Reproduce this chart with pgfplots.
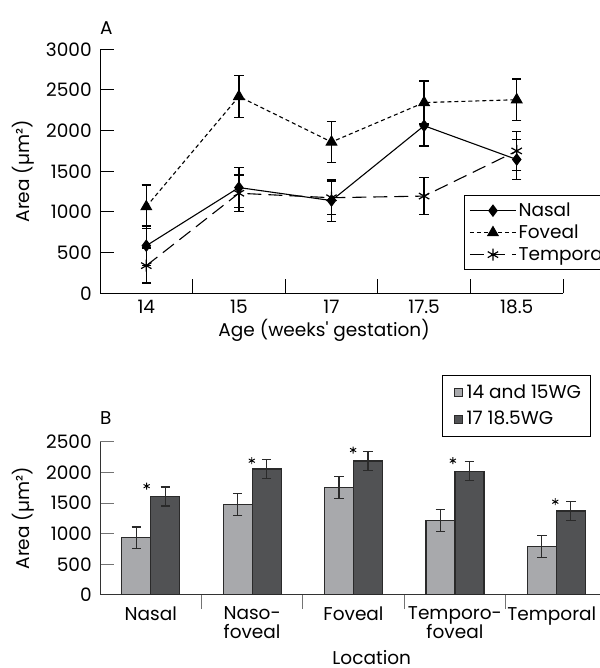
\documentclass[border=0pt]{standalone}
\usepackage{fontspec}
\setmainfont{Poppins}[Ligatures=TeXOff]
\usepackage{pgfplots}
\pgfplotsset{compat=1.18}
\definecolor{lightbar}{HTML}{A8A9AC}
\definecolor{darkbar}{HTML}{515254}
\definecolor{edge}{HTML}{2A2A2A}
\newcommand{\fs}{\fontsize{18.5}{21}\selectfont}
\begin{document}
\fs
\begin{tikzpicture}
\pgfplotsset{
  every axis/.append style={
    /pgf/number format/assume math mode=true,
    /pgf/number format/1000 sep={},
    scale only axis,
    xmin=0, xmax=5, ymin=0,
    axis x line*=bottom, axis y line*=left,
    tick align=inside,
    major tick length=14pt, minor tick length=14pt,
    xtick={0.5,1.5,2.5,3.5,4.5},
    minor xtick={1,2,3,4,5},
    major x tick style={draw=none},
    tick label style={font=\fs},
    yticklabel style={xshift=-2pt},
    label style={font=\fs},
    title style={font=\fs},
  },
}
% ---------- Panel A ----------
\begin{axis}[
  at={(100pt,374.7pt)}, anchor=south west,
  width=463pt, height=244pt,
  ymax=3000, ytick={0,500,...,3000},
  xticklabels={14,15,17,17.5,18.5},
  axis line style={black, line width=1pt},
  tick style={black, line width=1pt},
  xlabel={Age (weeks' gestation)},
  xlabel style={at={(axis description cs:0.484,-0.150)}, anchor=center},
  ylabel={Area (µm²)},
  ylabel style={at={(axis description cs:-0.166,0.5)}, anchor=center},
  title={A},
  title style={at={(axis description cs:0,1.062)}, anchor=west, inner sep=0pt},
  legend style={at={(axis description cs:0.786,0.403)}, anchor=north west,
    draw=black, line width=1pt, font=\fs,
    inner sep=5pt, row sep=1.5pt, cells={anchor=west}},
  legend image code/.code={\draw[mark repeat=2,mark phase=2,#1]
     plot coordinates {(0pt,0pt) (23pt,0pt) (46pt,0pt)};},
  error bars/error bar style={solid, line width=1.4pt, black},
  error bars/error mark options={rotate=90, solid, mark size=4.7pt, line width=1.4pt, black},
]
\addplot[black, line width=1.1pt, mark=diamond*, mark size=5.5pt, mark options={solid},
  error bars/.cd, y dir=both, y explicit]
  coordinates {(0.5,585) +- (0,240) (1.5,1300) +- (0,245) (2.5,1140) +- (0,255)
               (3.5,2060) +- (0,250) (4.5,1645) +- (0,245)};
\addlegendentry{Nasal}
\addplot[black, line width=1.1pt, dash pattern=on 4pt off 3pt, mark=triangle*, mark size=6pt, mark options={solid},
  error bars/.cd, y dir=both, y explicit]
  coordinates {(0.5,1065) +- (0,265) (1.5,2420) +- (0,260) (2.5,1860) +- (0,255)
               (3.5,2345) +- (0,265) (4.5,2380) +- (0,255)};
\addlegendentry{Foveal}
\addplot[black, line width=1.1pt, dash pattern=on 14pt off 7pt, mark=asterisk, mark size=6pt, mark options={solid, line width=1.2pt},
  error bars/.cd, y dir=both, y explicit]
  coordinates {(0.5,340) +- (0,215) (1.5,1230) +- (0,225) (2.5,1175) +- (0,205)
               (3.5,1195) +- (0,225) (4.5,1750) +- (0,240)};
\addlegendentry{Temporal}
\end{axis}
% ---------- Panel B ----------
\begin{axis}[
  at={(100pt,73pt)}, anchor=south west,
  width=507pt, height=153.3pt,
  ymax=2500, ytick={0,500,...,2500},
  ybar=0pt, bar width=29pt,
  xticklabels={Nasal,{Naso-\\foveal},Foveal,{Temporo-\\foveal},{Temporal\hspace*{9pt}}},
  xticklabel style={align=center, font=\fontsize{18.5}{19}\selectfont, yshift=9pt},
  axis line style={black!80, line width=1pt},
  tick style={black!55, line width=1pt},
  xlabel={Location},
  xlabel style={at={(axis description cs:0.536,-0.411)}, anchor=center},
  ylabel={Area (µm²)},
  ylabel style={at={(axis description cs:-0.152,0.5)}, anchor=center},
  title={B},
  title style={at={(axis description cs:0,1.117)}, anchor=west, inner sep=0pt},
  legend style={at={(axis description cs:0.6746,1.435)}, anchor=north west,
    draw=black, line width=1pt, font=\fs,
    inner sep=7pt, row sep=6pt, cells={anchor=west}},
  legend image code/.code={\draw[#1, line width=0.8pt] (4pt,-4pt) rectangle (12pt,4pt); \path (0pt,0pt) (14pt,0pt);},
  error bars/error bar style={line width=1.3pt, edge},
  error bars/error mark options={rotate=90, mark size=4.7pt, line width=1.3pt, edge},
]
\addplot[fill=lightbar, draw=edge, line width=1.2pt,
  error bars/.cd, y dir=both, y explicit]
  coordinates {(0.5,935) +- (0,175) (1.5,1475) +- (0,175) (2.5,1750) +- (0,177)
               (3.5,1215) +- (0,175) (4.5,788) +- (0,177)};
\addlegendentry{14 and 15WG}
\addplot[fill=darkbar, draw=edge, line width=1.2pt,
  error bars/.cd, y dir=both, y explicit]
  coordinates {(0.5,1605) +- (0,155) (1.5,2055) +- (0,152) (2.5,2185) +- (0,155)
               (3.5,2020) +- (0,152) (4.5,1370) +- (0,155)};
\addlegendentry{17 18.5WG}
\addplot[only marks, mark=asterisk, mark size=3.5pt, mark options={black, line width=0.9pt},
  forget plot, bar shift=0pt]
  coordinates {(0.46,1775) (1.497,2190) (2.496,2364) (3.48,2190) (4.49,1521)};
\end{axis}
\pgfresetboundingbox
\useasboundingbox (0,0) rectangle (599pt,668pt);
\end{tikzpicture}
\end{document}
